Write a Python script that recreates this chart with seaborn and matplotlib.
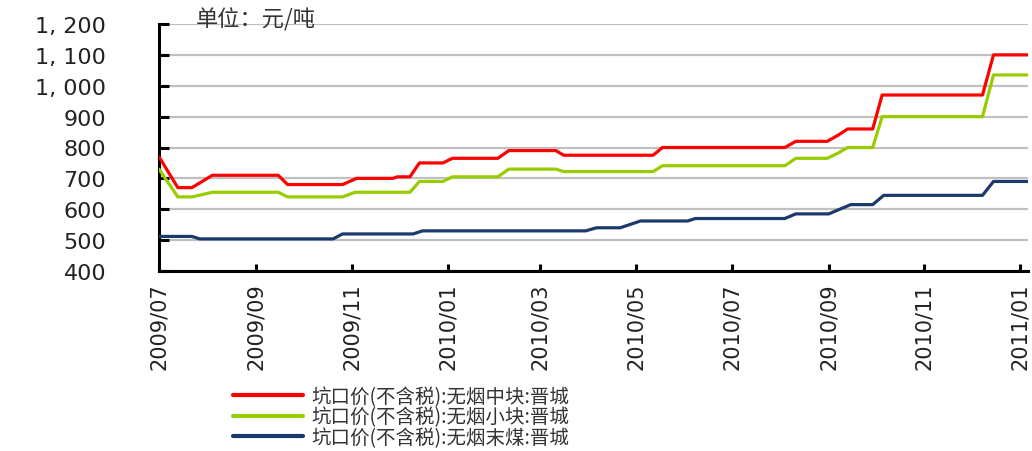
import matplotlib
matplotlib.use("Agg")
import matplotlib.pyplot as plt
import matplotlib.dates as mdates
from matplotlib.ticker import FixedLocator, FuncFormatter
import pandas as pd
import seaborn as sns

# Pit-mouth prices (tax excluded), Jincheng anthracite, yuan/ton
series_names = [
    "坑口价(不含税):无烟中块:晋城",
    "坑口价(不含税):无烟小块:晋城",
    "坑口价(不含税):无烟末煤:晋城",
]

lump_dates = ["2009-07-01", "2009-07-13", "2009-07-22", "2009-08-04", "2009-09-15",
              "2009-09-21", "2009-10-26", "2009-11-04", "2009-11-27", "2009-11-30",
              "2009-12-08", "2009-12-14", "2009-12-29", "2010-01-04", "2010-02-02",
              "2010-02-09", "2010-03-11", "2010-03-16", "2010-05-12", "2010-05-18",
              "2010-08-04", "2010-08-11", "2010-08-31", "2010-09-07", "2010-09-13",
              "2010-09-29", "2010-10-05", "2010-12-08", "2010-12-15", "2011-01-06"]
lump_prices = [770, 670, 670, 710, 710,
               680, 680, 700, 700, 705,
               705, 750, 750, 765, 765,
               790, 790, 775, 775, 800,
               800, 820, 820, 840, 860,
               860, 970, 970, 1100, 1100]

small_dates = ["2009-07-01", "2009-07-13", "2009-07-22", "2009-08-04", "2009-09-15",
               "2009-09-21", "2009-10-26", "2009-11-03", "2009-12-08", "2009-12-14",
               "2009-12-29", "2010-01-04", "2010-02-02", "2010-02-09", "2010-03-11",
               "2010-03-16", "2010-05-12", "2010-05-18", "2010-08-04", "2010-08-11",
               "2010-08-31", "2010-09-07", "2010-09-13", "2010-09-29", "2010-10-05",
               "2010-12-08", "2010-12-15", "2011-01-06"]
small_prices = [730, 640, 640, 655, 655,
                640, 640, 655, 655, 690,
                690, 705, 705, 730, 730,
                722, 722, 741, 741, 765,
                765, 782, 800, 800, 900,
                900, 1035, 1035]

fines_dates = ["2009-07-01", "2009-07-22", "2009-07-27", "2009-10-20", "2009-10-26",
               "2009-12-10", "2009-12-16", "2010-03-30", "2010-04-06", "2010-04-21",
               "2010-05-04", "2010-06-03", "2010-06-08", "2010-08-04", "2010-08-11",
               "2010-09-01", "2010-09-08", "2010-09-15", "2010-09-29", "2010-10-06",
               "2010-12-08", "2010-12-15", "2011-01-06"]
fines_prices = [512, 512, 504, 504, 520,
                520, 530, 530, 540, 540,
                562, 562, 570, 570, 585,
                585, 600, 615, 615, 645,
                645, 690, 690]

y_ticks = [400, 500, 600, 700, 800, 900, 1000, 1100, 1200]
unit_label = "单位：元/吨"

colors = ["#ff0000", "#99cc00", "#1b3a6b"]

frames = []
for name, d, v in zip(series_names,
                      [lump_dates, small_dates, fines_dates],
                      [lump_prices, small_prices, fines_prices]):
    frames.append(pd.DataFrame({"date": pd.to_datetime(d), "price": v, "series": name}))
df = pd.concat(frames, ignore_index=True)

sns.set_theme(style="white")
cjk = ["Noto Sans CJK SC", "DejaVu Sans"]
plt.rcParams["font.family"] = cjk
plt.rcParams["axes.unicode_minus"] = False

fig = plt.figure(figsize=(10.32, 4.52), dpi=100)
ax = fig.add_axes([159 / 1032, 1 - 272 / 452, (1028 - 159) / 1032, (272 - 25) / 452])

sns.lineplot(data=df, x="date", y="price", hue="series", hue_order=series_names,
             palette=colors, estimator=None, sort=False, linewidth=2.3, ax=ax,
             legend=True, zorder=3)

ax.set_ylim(400, 1200)
ax.set_xlim(pd.Timestamp("2009-07-01"), pd.Timestamp("2011-01-06"))
ax.yaxis.set_major_locator(FixedLocator(y_ticks))
ax.yaxis.set_major_formatter(FuncFormatter(
    lambda v, p: f"{int(v) // 1000}, {int(v) % 1000:03d}" if v >= 1000 else f"{int(v)}"))
ax.xaxis.set_major_locator(mdates.MonthLocator(bymonth=[1, 3, 5, 7, 9, 11]))
ax.xaxis.set_major_formatter(mdates.DateFormatter("%Y/%m"))

ax.grid(axis="y", color="#c0c0c0", linewidth=1.6, zorder=0)
ax.grid(axis="x", visible=False)
ax.set_axisbelow(True)

for s in ["top", "right"]:
    ax.spines[s].set_visible(False)
for s in ["left", "bottom"]:
    ax.spines[s].set_color("black")
    ax.spines[s].set_linewidth(2.2)

ax.tick_params(axis="y", direction="in", length=7, width=2.2, color="black",
               pad=38, labelsize=16, labelcolor="#222222", left=True)
ax.tick_params(axis="x", direction="in", length=5, width=2.2, color="black",
               pad=8, labelsize=15, labelcolor="#222222", bottom=True)
for lab in ax.get_xticklabels():
    lab.set_rotation(90)
    lab.set_family("DejaVu Sans")
for lab in ax.get_yticklabels():
    lab.set_family("DejaVu Sans")

ax.set_xlabel("")
ax.set_ylabel("")

ax.text(0.042, 1.02, unit_label, transform=ax.transAxes, ha="left", va="center",
        fontsize=16, color="#333333", family=cjk)

handles, labels = ax.get_legend_handles_labels()
ax.get_legend().remove()
leg = fig.legend(handles, labels, loc="upper left",
                 bbox_to_anchor=(233 / 1032, 1 - 387 / 452),
                 frameon=False, fontsize=14, handlelength=3.6, handletextpad=0.45,
                 labelspacing=-0.02, borderaxespad=0, borderpad=0)
for line in leg.get_lines():
    line.set_linewidth(3)
for t in leg.get_texts():
    t.set_color("#333333")

fig.savefig("out.png", dpi=100)
